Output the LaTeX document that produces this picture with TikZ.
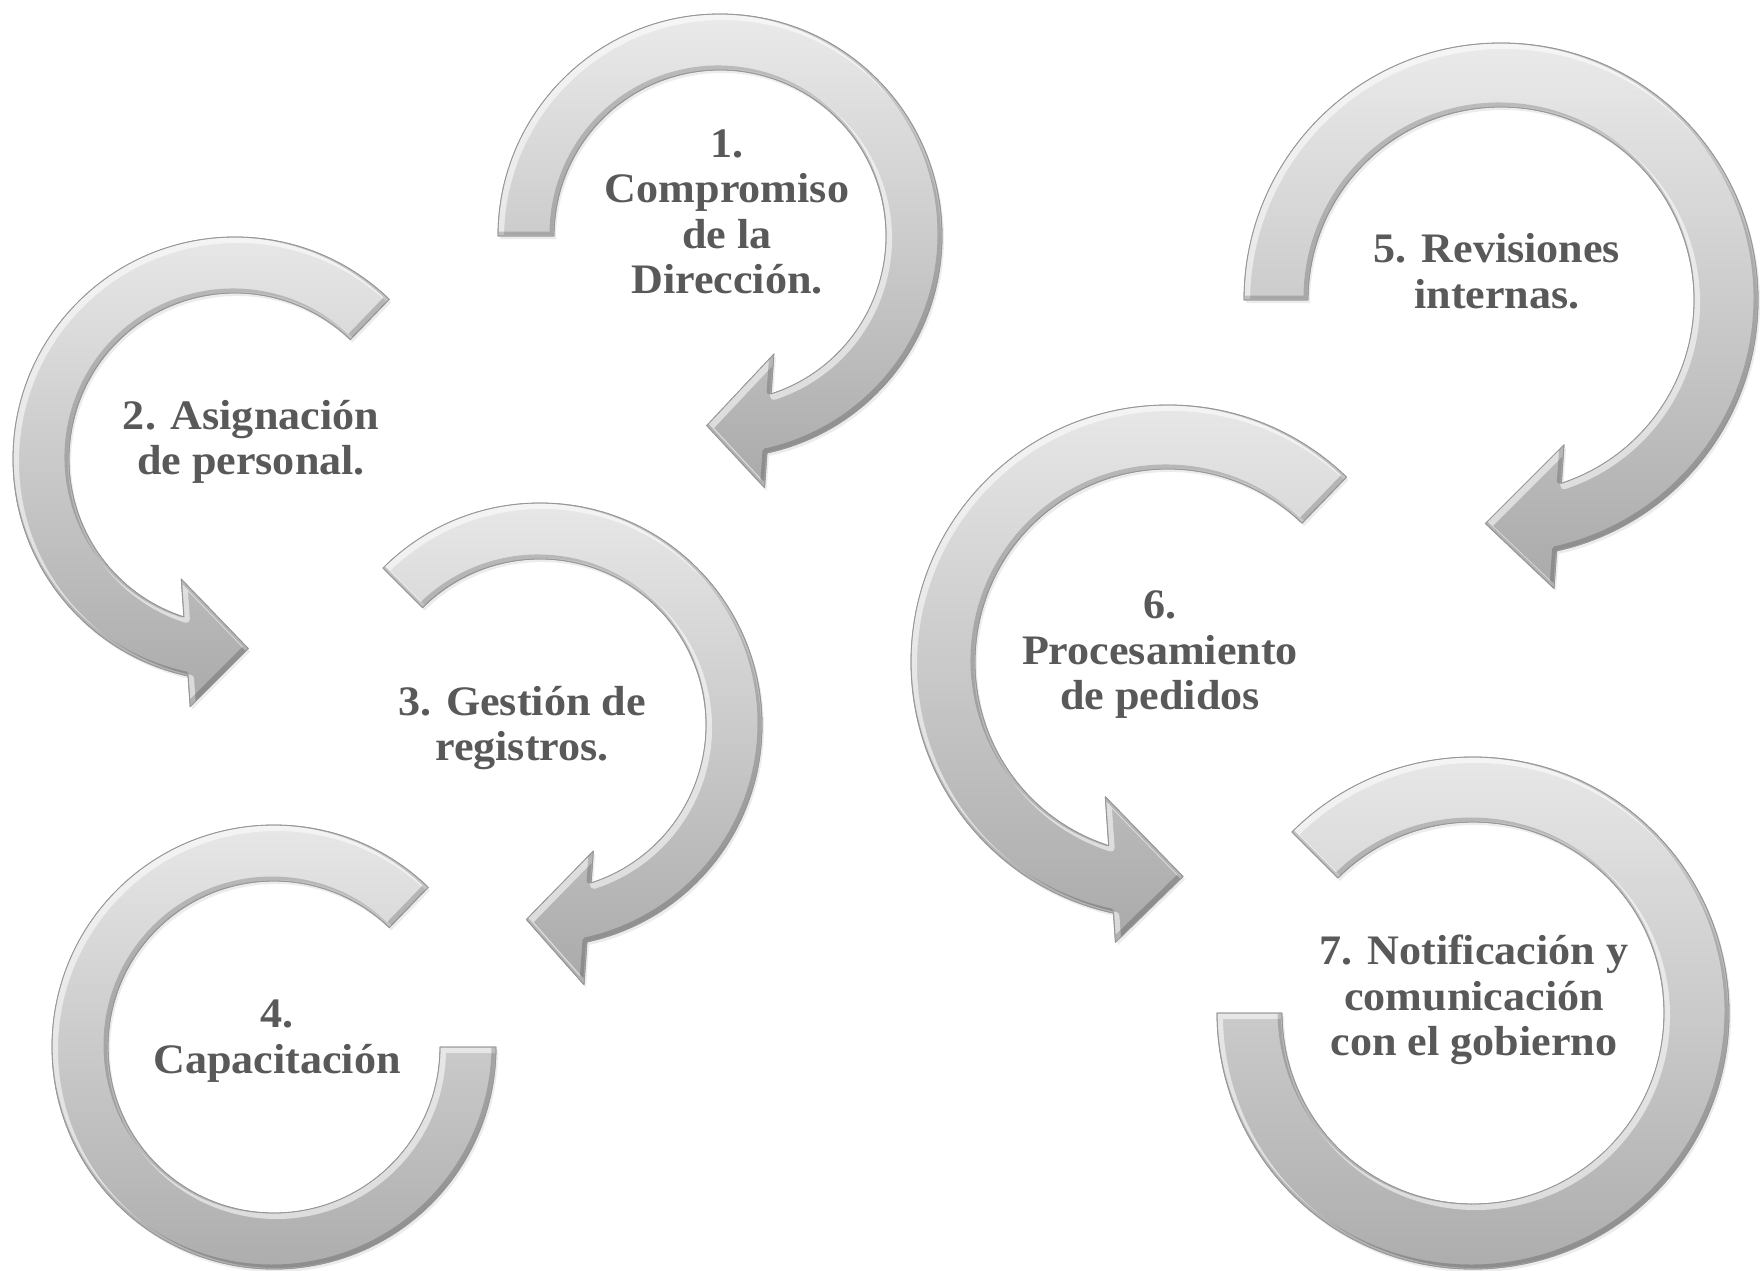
\documentclass[tikz,border=0pt]{standalone}
\usepackage{fontspec}
\newfontfamily\lbf{Liberation Serif}[FakeStretch=1.05]
\usetikzlibrary{shadows}
\definecolor{txtgrey}{RGB}{89,89,89}
\definecolor{shtop}{RGB}{234,234,234}
\definecolor{shbot}{RGB}{170,170,170}
\definecolor{shedge}{RGB}{150,150,150}
\tikzset{
  arrowshape/.style={top color=shtop, bottom color=shbot, draw=shedge, line width=0.8pt, line join=round,
    drop shadow={opacity=0.15, shadow xshift=2pt, shadow yshift=-3pt}},
  bevlight/.style={draw=white, opacity=0.55, line width=7pt, line join=round},
  bevdark/.style={draw=black, opacity=0.18, line width=5pt, line join=round},
  lbl/.style={font=\lbf\bfseries\fontsize{42}{45.5}\selectfont, text=txtgrey, align=center, inner sep=0pt}
}
\newcommand\bevel{%
  \begin{scope}
    \clip \cApath;
    \path[bevlight, shift={(2.5,-2.5)}] \cApath;
    \path[bevdark, shift={(-2,2)}] \cApath;
  \end{scope}
  \path[draw=shedge, line width=0.8pt, line join=round] \cApath;}
% head geometry set before each call: \hXo outer corner, \hXi inner corner, \hXt tip radius
% #1 cx, #2 cy (px from top), #3 Ro, #4 Ri, #5 head length, #6 tail angle, #7 tip angle, #8 sign (1 cw, -1 ccw)
\newcommand\cArrow[8]{%
  \begin{scope}[shift={(#1,-#2)}]
    \pgfmathsetmacro\cAao{#7+(#8)*asin(#5/#3)}
    \pgfmathsetmacro\cAai{#7+(#8)*asin(#5/#4)}
    \pgfmathsetmacro\cAco{#7+(#8)*atan(#5/\hXo)}
    \pgfmathsetmacro\cAro{100*sqrt((\hXo/100)^2+(#5/100)^2)}
    \pgfmathsetmacro\cAci{#7+(#8)*atan(#5/\hXi)}
    \pgfmathsetmacro\cAri{100*sqrt((\hXi/100)^2+(#5/100)^2)}
    \def\cApath{(#6:#3) arc[start angle=#6, end angle=\cAao, radius=#3]
      -- (\cAco:\cAro) -- (#7:\hXt) -- (\cAci:\cAri) -- (\cAai:#4)
      arc[start angle=\cAai, end angle=#6, radius=#4] -- cycle}
    \path[arrowshape] \cApath;
    \bevel
  \end{scope}}
% ring: #1 cx, #2 cy, #3 Ro, #4 Ri, #5 start, #6 end
\newcommand\cRing[6]{%
  \begin{scope}[shift={(#1,-#2)}]
    \def\cApath{(#5:#3) arc[start angle=#5, end angle=#6, radius=#3]
      -- (#6:#4) arc[start angle=#6, end angle=#5, radius=#4] -- cycle}
    \path[arrowshape] \cApath;
    \bevel
  \end{scope}}
\begin{document}
\begin{tikzpicture}[x=1pt,y=1pt]
\useasboundingbox (0,0) rectangle (1764,-1271);
\fill[white] (0,0) rectangle (1764,-1271);
% arrows
\def\hXo{248}\def\hXi{114}\def\hXt{190}
\cArrow{720}{236}{222}{166}{62}{180}{-94}{1}
\def\hXo{244}\def\hXi{116}\def\hXt{190}
\cArrow{235}{459}{222}{166}{62}{46}{274}{-1}
\def\hXo{256}\def\hXi{122}\def\hXt{195}
\cArrow{540}{725}{222}{166}{62}{135}{-94}{1}
\cRing{274}{1047}{222}{166}{46}{360}
\def\hXo{284}\def\hXi{140}\def\hXt{224}
\cArrow{1501}{300}{257}{193}{73}{180}{-94}{1}
\def\hXo{276}\def\hXi{130}\def\hXt{215}
\cArrow{1168}{662}{257}{193}{72}{46}{274}{-1}
\cRing{1473}{1013}{256}{191}{135}{-180}
% labels
\node[lbl] (t1) at (727,-212) {1.\\Compromiso\\de la\\Dirección.};
\node[lbl] (t2) at (251,-442) {2. Asignación\\de personal.};
\node[lbl] (t3) at (522,-728) {3. Gestión de\\registros.};
\node[lbl] (t4) at (277,-1041) {4.\\Capacitación};
\node[lbl] (t5) at (1497,-271) {5. Revisiones\\internas.};
\node[lbl] (t6) at (1160,-655) {6.\\Procesamiento\\de pedidos};
\node[lbl] (t7) at (1474,-1000) {7. Notificación y\\comunicación\\con el gobierno};
\end{tikzpicture}
\end{document}
